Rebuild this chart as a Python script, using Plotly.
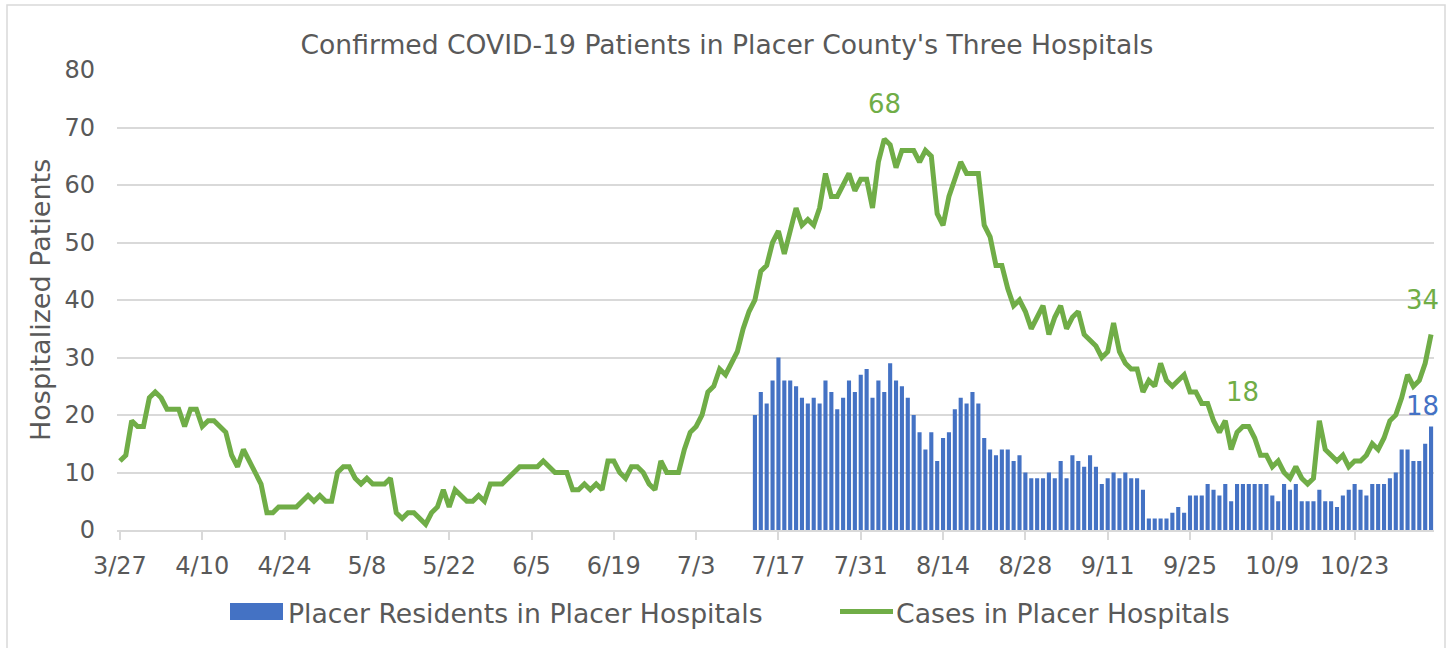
import pandas as pd
import plotly.graph_objects as go

# ---------------- data ----------------
line_start = "2020-03-27"
bar_start = "2020-07-13"

cases_in_placer_hospitals = [
    12, 13, 19, 18, 18, 23, 24, 23, 21, 21, 21, 18, 21, 21, 18, 19, 19, 18, 17, 13,
    11, 14, 12, 10, 8, 3, 3, 4, 4, 4, 4, 5, 6, 5, 6, 5, 5, 10, 11, 11,
    9, 8, 9, 8, 8, 8, 9, 3, 2, 3, 3, 2, 1, 3, 4, 7, 4, 7, 6, 5,
    5, 6, 5, 8, 8, 8, 9, 10, 11, 11, 11, 11, 12, 11, 10, 10, 10, 7, 7, 8,
    7, 8, 7, 12, 12, 10, 9, 11, 11, 10, 8, 7, 12, 10, 10, 10, 14, 17, 18, 20,
    24, 25, 28, 27, 29, 31, 35, 38, 40, 45, 46, 50, 52, 48, 52, 56, 53, 54, 53, 56,
    62, 58, 58, 60, 62, 59, 61, 61, 56, 64, 68, 67, 63, 66, 66, 66, 64, 66, 65, 55,
    53, 58, 61, 64, 62, 62, 62, 53, 51, 46, 46, 42, 39, 40, 38, 35, 37, 39, 34, 37,
    39, 35, 37, 38, 34, 33, 32, 30, 31, 36, 31, 29, 28, 28, 24, 26, 25, 29, 26, 25,
    26, 27, 24, 24, 22, 22, 19, 17, 19, 14, 17, 18, 18, 16, 13, 13, 11, 12, 10, 9,
    11, 9, 8, 9, 19, 14, 13, 12, 13, 11, 12, 12, 13, 15, 14, 16, 19, 20, 23, 27,
    25, 26, 29, 34,
]

placer_residents_in_placer_hospitals = [
    20, 24, 22, 26, 30, 26, 26, 25, 23, 22, 23, 22, 26, 24, 21, 23, 26, 24, 27, 28,
    23, 26, 24, 29, 26, 25, 23, 20, 17, 14, 17, 12, 16, 17, 21, 23, 22, 24, 22, 16,
    14, 13, 14, 14, 12, 13, 10, 9, 9, 9, 10, 9, 12, 9, 13, 12, 11, 13, 11, 8,
    9, 10, 9, 10, 9, 9, 7, 2, 2, 2, 2, 3, 4, 3, 6, 6, 6, 8, 7, 6,
    8, 5, 8, 8, 8, 8, 8, 8, 6, 5, 8, 7, 8, 5, 5, 5, 7, 5, 5, 4,
    6, 7, 8, 7, 6, 8, 8, 8, 9, 10, 14, 14, 12, 12, 15, 18,
]

tick_dates = ["2020-03-27", "2020-04-10", "2020-04-24", "2020-05-08", "2020-05-22",
              "2020-06-05", "2020-06-19", "2020-07-03", "2020-07-17", "2020-07-31",
              "2020-08-14", "2020-08-28", "2020-09-11", "2020-09-25", "2020-10-09",
              "2020-10-23"]
tick_labels = ["3/27", "4/10", "4/24", "5/8", "5/22", "6/5", "6/19", "7/3", "7/17",
               "7/31", "8/14", "8/28", "9/11", "9/25", "10/9", "10/23"]

# data-label indices (peak, local label, last point)
green_label_idx = [130, 191, len(cases_in_placer_hospitals) - 1]

# ---------------- figure ----------------
line_dates = pd.date_range(line_start, periods=len(cases_in_placer_hospitals), freq="D")
bar_dates = pd.date_range(bar_start, periods=len(placer_residents_in_placer_hospitals), freq="D")

BLUE = "#4472c4"
GREEN = "#70ad47"
TXT = "#595959"
GRID = "#d9d9d9"
FONT = "DejaVu Sans"

fig = go.Figure()
fig.add_trace(go.Bar(
    x=bar_dates, y=placer_residents_in_placer_hospitals,
    name="Placer Residents in Placer Hospitals",
    marker=dict(color=BLUE, line=dict(width=0)),
))
fig.add_trace(go.Scatter(
    x=line_dates, y=cases_in_placer_hospitals, mode="lines",
    name="Cases in Placer Hospitals",
    line=dict(color=GREEN, width=5),
))

W, H = 1450, 648
L, R, T, B = 117, 16, 70, 118
pw, ph = W - L - R, H - T - B


def px(x):
    return (x - L) / pw


def py(y):
    return (H - B - y) / ph


annotations = []
last = len(cases_in_placer_hospitals) - 1
for i in green_label_idx:
    annotations.append(dict(
        x=line_dates[i], y=cases_in_placer_hospitals[i], xref="x", yref="y",
        text=str(cases_in_placer_hospitals[i]), showarrow=False,
        yshift=35, xshift=-9 if i == last else 0,
        font=dict(family=FONT, size=26, color=GREEN),
    ))
annotations.append(dict(
    x=bar_dates[-1], y=placer_residents_in_placer_hospitals[-1], xref="x", yref="y",
    text=str(placer_residents_in_placer_hospitals[-1]), showarrow=False,
    yshift=21, xshift=-9, font=dict(family=FONT, size=26, color=BLUE),
))
# y-axis title
annotations.append(dict(
    x=px(40), y=py(300), xref="paper", yref="paper", text="Hospitalized Patients",
    textangle=-90, showarrow=False, xanchor="center", yanchor="middle",
    font=dict(family=FONT, size=27, color=TXT),
))
# legend texts
annotations.append(dict(
    x=px(286), y=py(613), xref="paper", yref="paper",
    text="Placer Residents in Placer Hospitals", showarrow=False,
    xanchor="left", yanchor="middle", font=dict(family=FONT, size=26.7, color=TXT),
))
annotations.append(dict(
    x=px(894), y=py(613), xref="paper", yref="paper",
    text="Cases in Placer Hospitals", showarrow=False,
    xanchor="left", yanchor="middle", font=dict(family=FONT, size=26.7, color=TXT),
))

shapes = [
    # legend keys
    dict(type="rect", xref="paper", yref="paper", x0=px(230), x1=px(283),
         y0=py(620), y1=py(603), fillcolor=BLUE, line=dict(width=0)),
    dict(type="line", xref="paper", yref="paper", x0=px(840), x1=px(893),
         y0=py(611.5), y1=py(611.5), line=dict(color=GREEN, width=5)),
    # chart border
    dict(type="rect", xref="paper", yref="paper", x0=px(7), x1=px(1445),
         y0=py(700), y1=py(5), line=dict(color=GRID, width=1.5),
         fillcolor="rgba(0,0,0,0)", layer="below"),
]

fig.update_layout(
    width=W, height=H,
    margin=dict(l=L, r=R, t=T, b=B),
    paper_bgcolor="white", plot_bgcolor="white",
    showlegend=False,
    bargap=0.3,
    title=dict(text="Confirmed COVID-19 Patients in Placer County's Three Hospitals",
               x=727 / W, xref="container", xanchor="center",
               y=1 - 45 / H, yref="container", yanchor="middle",
               font=dict(family=FONT, size=26.6, color=TXT)),
    font=dict(family=FONT, color=TXT),
    annotations=annotations,
    shapes=shapes,
)
fig.update_xaxes(
    type="date",
    range=[pd.Timestamp(line_start) - pd.Timedelta(hours=12),
           line_dates[-1] + pd.Timedelta(hours=12)],
    tickvals=tick_dates, ticktext=tick_labels,
    ticks="outside", ticklen=8, tickwidth=1.5, tickcolor=GRID,
    showline=True, linecolor=GRID, linewidth=1.5,
    showgrid=False, zeroline=False,
    tickfont=dict(family=FONT, size=24, color=TXT),
    ticklabelstandoff=5,
)
fig.update_yaxes(
    range=[0, 80], dtick=10, tick0=0,
    showgrid=True, gridcolor=GRID, gridwidth=1.5,
    zeroline=False, showline=False, ticks="",
    tickfont=dict(family=FONT, size=24, color=TXT),
    ticklabelstandoff=21,
)

fig.write_html(
    "out.html",
    config={"displayModeBar": False},
    post_script="document.body.style.margin='0';document.body.style.overflow='hidden';",
)
